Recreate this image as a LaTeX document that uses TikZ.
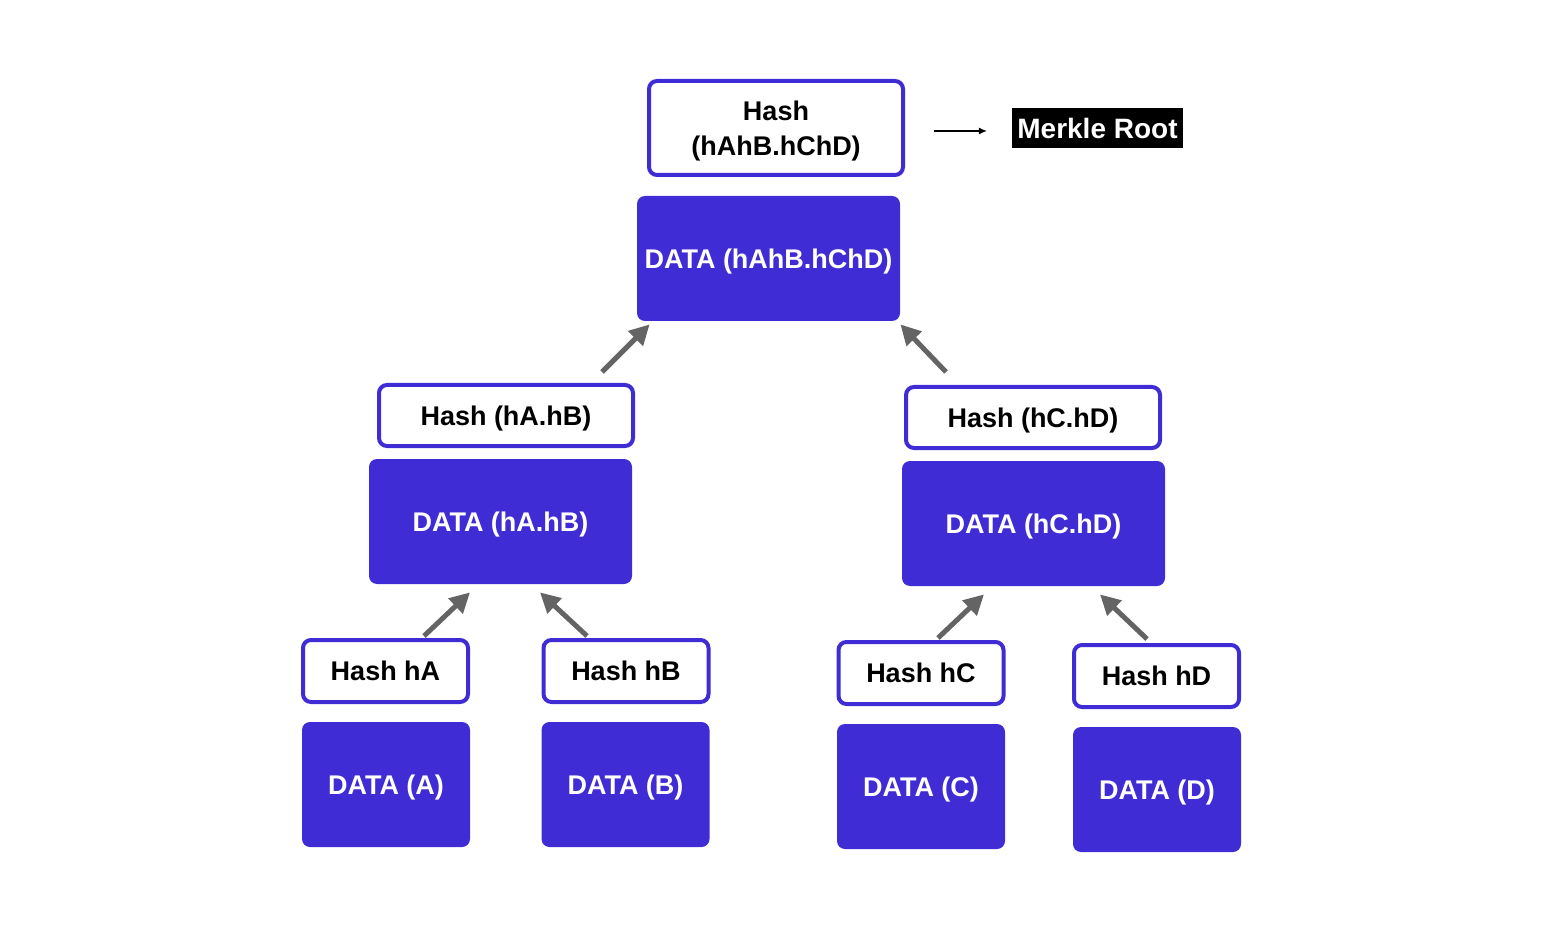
\documentclass[tikz,border=0pt]{standalone}
\usepackage{fontspec}
\setmainfont{Liberation Sans}
\definecolor{blue}{RGB}{64, 44, 212}
\definecolor{gray}{RGB}{100, 100, 100}
\usetikzlibrary{arrows.meta}
\usetikzlibrary{calc}
\usetikzlibrary{positioning}
\tikzset{
  hashbox/.style={draw=blue, line width=2pt, fill=white, rounded corners=4pt,
    inner sep=0, align=center, text depth=0pt, font=\fontsize{13.5}{17.5}\selectfont\bfseries},
  databox/.style={fill=blue, rounded corners=4pt, inner sep=0, text=white, text depth=0pt,
    font=\fontsize{13.5}{17.5}\selectfont\bfseries},
  rootlabel/.style={fill=black, text=white, inner xsep=2.5pt, inner ysep=0,
    minimum height=20pt, font=\fontsize{14}{17}\selectfont\bfseries},
  arrow/.style={-{Triangle[length=10pt,width=10pt]}, line width=2.5pt, draw=gray},
  rootarrow/.style={-{Latex[length=4pt,width=3.5pt]}, line width=0.75pt}
}
\begin{document}
\begin{tikzpicture}[x=0.5pt, y=-0.5pt]
\useasboundingbox (0,0) rectangle (1552,930);

% root
\node[hashbox, minimum width=127pt, minimum height=47pt] (roothash) at (776,128) {Hash\\(hAhB.hChD)};
\node[databox, minimum width=131.5pt, minimum height=62.5pt] (rootdata) at (768.5,258.5) {DATA (hAhB.hChD)};
\node[rootlabel] (merkle) at (1097.5,128) {Merkle Root};
\draw[rootarrow, shorten <=14.5pt, shorten >=12.5pt] ($(roothash.east)+(0,3)$) -- ($(merkle.west)+(0,3)$);

% second level
\node[hashbox, minimum width=127pt, minimum height=30.5pt] (hashAB) at (506,415.5) {Hash (hA.hB)};
\node[databox, minimum width=131.5pt, minimum height=62.5pt] (dataAB) at (500.5,521.5) {DATA (hA.hB)};
\node[hashbox, minimum width=127pt, minimum height=30.5pt] (hashCD) at (1033,417.5) {Hash (hC.hD)};
\node[databox, minimum width=131.5pt, minimum height=62.5pt] (dataCD) at (1033.5,523.5) {DATA (hC.hD)};

% leaves
\node[hashbox, minimum width=82.5pt, minimum height=31pt] (hashA) at (385.5,671) {Hash hA};
\node[databox, minimum width=84pt, minimum height=62.5pt] (dataA) at (386,784.5) {DATA (A)};
\node[hashbox, minimum width=82.5pt, minimum height=31pt] (hashB) at (626,671) {Hash hB};
\node[databox, minimum width=84pt, minimum height=62.5pt] (dataB) at (625.5,784.5) {DATA (B)};
\node[hashbox, minimum width=82.5pt, minimum height=31pt] (hashC) at (921,673) {Hash hC};
\node[databox, minimum width=84pt, minimum height=62.5pt] (dataC) at (921,786.5) {DATA (C)};
\node[hashbox, minimum width=82.5pt, minimum height=31pt] (hashD) at (1156.5,676) {Hash hD};
\node[databox, minimum width=84pt, minimum height=62.5pt] (dataD) at (1157,789.5) {DATA (D)};

% arrows
\draw[arrow] ($(hashAB.north east)+(-33,-11)$) -- ($(rootdata.south west)+(13,3)$);
\draw[arrow] ($(hashCD.north west)+(42,-13)$) -- ($(rootdata.south east)+(0,3)$);
\draw[arrow] ($(hashA.north)+(38.5,-2)$) -- ($(dataAB.south)+(-30.5,8)$);
\draw[arrow] ($(hashB.north)+(-39,-2)$) -- ($(dataAB.south)+(39.5,8)$);
\draw[arrow] ($(hashC.north)+(17,-2)$) -- ($(dataCD.south)+(-49.5,8)$);
\draw[arrow] ($(hashD.north)+(-9.5,-4)$) -- ($(dataCD.south)+(66.5,8)$);
\end{tikzpicture}
\end{document}
